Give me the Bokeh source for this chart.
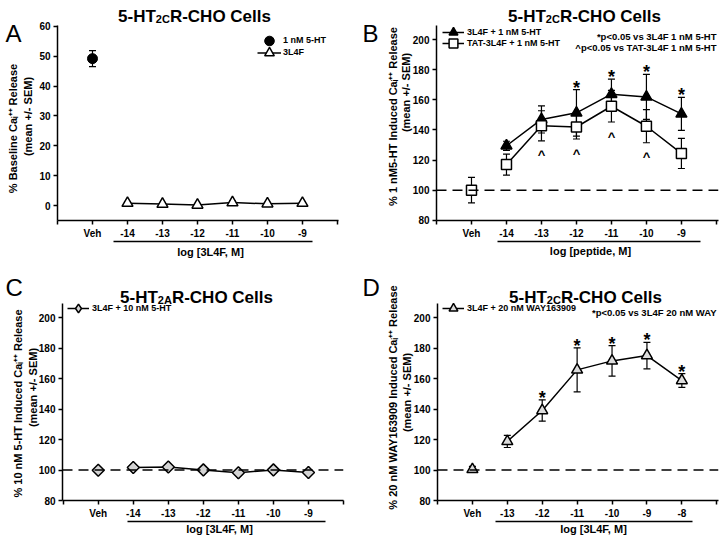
import math
from bokeh.plotting import figure
from bokeh.layouts import column, row
from bokeh.models import (Label, Span, Whisker, TeeHead, ColumnDataSource,
                          Legend, LegendItem, FixedTicker, Range1d, LinearAxis)
from bokeh.core.properties import value
from bokeh.embed import file_html
from bokeh.resources import INLINE

FONT = "Liberation Sans"

# ---------------- data ----------------
x_cats_a = ["Veh", "-14", "-13", "-12", "-11", "-10", "-9"]
x_cats_b = ["Veh", "-14", "-13", "-12", "-11", "-10", "-9"]
x_cats_c = ["Veh", "-14", "-13", "-12", "-11", "-10", "-9"]
x_cats_d = ["Veh", "-13", "-12", "-11", "-10", "-9", "-8"]

a_yticks = [0, 10, 20, 30, 40, 50, 60]
bcd_yticks = [80, 100, 120, 140, 160, 180, 200]

# A: % baseline Ca release
a_5ht_mean = [49.2]
a_5ht_sem = [2.7]
a_3l4f_mean = [0.8, 0.5, 0.2, 1.0, 0.6, 0.8]
a_3l4f_sem = [0.5, 0.4, 0.4, 0.5, 0.4, 0.4]

# B: % 1 nM 5-HT induced release
b_veh_mean = [100.0]
b_veh_sem = [8.5]
b_3l4f_mean = [129.5, 147.0, 151.4, 163.8, 162.0, 150.7]
b_3l4f_sem = [3.0, 9.0, 15.5, 10.0, 15.0, 11.0]
b_tat_mean = [117.0, 142.8, 142.0, 155.8, 142.5, 124.4]
b_tat_sem = [7.0, 10.0, 8.0, 10.5, 11.0, 10.0]
b_3l4f_sig = [False, False, True, True, True, True]
b_tat_sig = [False, True, True, True, True, False]

# C: 5-HT2A, % 10 nM 5-HT induced release
c_veh_mean = [99.9]
c_veh_sem = [1.0]
c_3l4f_mean = [101.7, 102.0, 100.1, 98.2, 100.1, 98.4]
c_3l4f_sem = [1.2, 1.0, 1.0, 1.2, 1.0, 1.0]

# D: % 20 nM WAY163909 induced release
d_veh_mean = [100.4]
d_veh_sem = [2.0]
d_3l4f_mean = [118.8, 139.1, 165.8, 171.7, 175.2, 158.8]
d_3l4f_sem = [4.0, 7.0, 14.5, 10.0, 8.7, 4.5]
d_3l4f_sig = [False, True, True, True, True, True]

# ---------------- helpers ----------------
W = 360
H1 = 269
H2 = 270


def make_src(xs, means, sems):
    return ColumnDataSource(dict(
        x=xs, y=means,
        upper=[m + s for m, s in zip(means, sems)],
        lower=[m - s for m, s in zip(means, sems)]))


def style_axis(ax):
    ax.axis_line_width = 1.5
    ax.axis_line_color = "black"
    ax.major_tick_line_width = 1.5
    ax.major_tick_line_color = "black"
    ax.major_tick_in = 0
    ax.major_tick_out = 4
    ax.minor_tick_line_color = None
    ax.major_label_text_font = FONT
    ax.major_label_text_font_style = "bold"
    ax.major_label_text_font_size = "10px"
    ax.major_label_text_color = "black"
    ax.major_label_standoff = 3


def make_fig(cx, cy, h, frame, xr, yr, yticks, xcats, ul):
    fl, fr, ft, fb = frame
    p = figure(width=W, height=h, x_range=Range1d(*xr), y_range=Range1d(*yr),
               title=None, output_backend="svg", toolbar_location=None,
               min_border_left=fl - cx, min_border_right=cx + W - fr,
               min_border_top=ft - cy, min_border_bottom=cy + h - fb)
    p.outline_line_color = None
    p.grid.visible = False
    p.background_fill_color = "white"
    p.border_fill_color = "white"
    p.xaxis.ticker = FixedTicker(ticks=list(range(-1, 8)))
    ov = {-1: "", 7: ""}
    for i, c in enumerate(xcats):
        ov[i] = c
    p.xaxis.major_label_overrides = ov
    p.yaxis.ticker = FixedTicker(ticks=yticks)
    style_axis(p.xaxis[0])
    style_axis(p.yaxis[0])
    # underline below the dose tick labels: a bare axis line with bounds
    ax2 = LinearAxis(bounds=ul, ticker=FixedTicker(ticks=[]))
    style_axis(ax2)
    ax2.major_tick_out = 0
    ax2.major_label_standoff = 0
    p.add_layout(ax2, "below")
    return p


def add_err(p, src):
    p.add_layout(Whisker(source=src, base="x", upper="upper", lower="lower",
                         dimension="height", line_color="black", line_width=1.2,
                         upper_head=TeeHead(size=7, line_width=1.2, line_color="black"),
                         lower_head=TeeHead(size=7, line_width=1.2, line_color="black"),
                         level="underlay"))


def legend1(p, frame, label, rends, left_page, center_page, gw=22, gh=24, standoff=3):
    fl, fr, ft, fb = frame
    lg = Legend(items=[LegendItem(label=label, renderers=rends)],
                location=(left_page - fl, fb - center_page - gh / 2),
                border_line_color=None, background_fill_alpha=0.0,
                label_text_font=FONT, label_text_font_style="bold",
                label_text_font_size="9px", label_text_color="black",
                glyph_width=gw, glyph_height=gh, label_height=12,
                spacing=0, padding=0, margin=0, label_standoff=standoff)
    p.add_layout(lg)


def note(p, frame, px, py, text):
    fl, fr, ft, fb = frame
    p.add_layout(Label(x=px - fl, y=fb - py, x_units="screen", y_units="screen",
                       text=text, text_font=FONT, text_font_size="9.5px",
                       text_font_style="bold", text_align="right",
                       text_baseline="alphabetic", text_color="black"))


def dash100(p):
    p.add_layout(Span(location=100, dimension="width", line_color="black",
                      line_width=1.5, line_dash="10 6"))


def stars(p, xs, uppers, flags, yoff):
    sx = [x for x, f in zip(xs, flags) if f]
    sy = [u for u, f in zip(uppers, flags) if f]
    p.text(x=sx, y=sy, text=["*"] * len(sx), text_font=value(FONT),
           text_font_size="18px", text_font_style="bold", text_align="center",
           text_baseline="alphabetic", y_offset=yoff, text_color="black")


def carets(p, xs, lowers, flags, yoff):
    sx = [x for x, f in zip(xs, flags) if f]
    sy = [u for u, f in zip(lowers, flags) if f]
    p.text(x=sx, y=sy, text=["^"] * len(sx), text_font=value(FONT),
           text_font_size="13px", text_font_style="bold", text_align="center",
           text_baseline="alphabetic", y_offset=yoff, text_color="black")


SUPI = "Ca\u1d62\u207a\u207a"

# ---------------- Panel A ----------------
fa = (57, 338, 24, 220)
pa = make_fig(0, 0, H1, fa, (-1.0, 7.03), (-5, 60.3), a_yticks, x_cats_a, (0.6, 6.3))
xs_a = list(range(1, len(x_cats_a)))
sa_veh = make_src([0], a_5ht_mean, a_5ht_sem)
sa = make_src(xs_a, a_3l4f_mean, a_3l4f_sem)
add_err(pa, sa_veh)
add_err(pa, sa)
la0 = pa.line(x=[], y=[], line_color="black", line_width=1.5)
ra0 = pa.scatter("x", "y", source=sa_veh, marker="circle", size=10,
                 fill_color="black", line_color="black")
la1 = pa.line("x", "y", source=sa, line_color="black", line_width=1.5)
ra1 = pa.scatter("x", "y", source=sa, marker="triangle", size=11,
                 fill_color="white", line_color="black", line_width=1.5)
legend1(pa, fa, "1 nM 5-HT", [la0, ra0], 257, 40, gw=24, gh=25, standoff=2)
legend1(pa, fa, "3L4F", [la1, ra1], 257, 52, gw=24, gh=25, standoff=2)

# ---------------- Panel B ----------------
fbb = (436, 718, 25, 220)
pb = make_fig(360, 0, H1, fbb, (-1.0, 7.06), (79.8, 209.5), bcd_yticks, x_cats_b, (0.73, 6.55))
dash100(pb)
xs_b = list(range(1, len(x_cats_b)))
sb_veh = make_src([0], b_veh_mean, b_veh_sem)
sb1 = make_src(xs_b, b_3l4f_mean, b_3l4f_sem)
sb2 = make_src(xs_b, b_tat_mean, b_tat_sem)
add_err(pb, sb_veh)
add_err(pb, sb1)
add_err(pb, sb2)
lb1 = pb.line("x", "y", source=sb1, line_color="black", line_width=1.5)
rb1 = pb.scatter("x", "y", source=sb1, marker="triangle", size=11,
                 fill_color="black", line_color="black", line_width=1.5)
lb2 = pb.line("x", "y", source=sb2, line_color="black", line_width=1.5)
rb2 = pb.scatter("x", "y", source=sb2, marker="square", size=10,
                 fill_color="white", line_color="black", line_width=1.5)
pb.scatter("x", "y", source=sb_veh, marker="square", size=10,
           fill_color="white", line_color="black", line_width=1.5)
stars(pb, xs_b, sb1.data["upper"], b_3l4f_sig, -2)
carets(pb, xs_b, sb2.data["lower"], b_tat_sig, 14)
legend1(pb, fbb, "3L4F + 1 nM 5-HT", [lb1, rb1], 442, 31.5)
legend1(pb, fbb, "TAT-3L4F + 1 nM 5-HT", [lb2, rb2], 442, 42.5)
note(pb, fbb, 716, 36, "*p<0.05 vs 3L4F 1 nM 5-HT")
note(pb, fbb, 716, 47, "^p<0.05 vs TAT-3L4F 1 nM 5-HT")

# ---------------- Panel C ----------------
fc = (62, 343, 303, 500)
pc = make_fig(0, 269, H2, fc, (-1.02, 7.0), (80, 209.4), bcd_yticks, x_cats_c, (0.83, 6.49))
dash100(pc)
xs_c = list(range(1, len(x_cats_c)))
sc_veh = make_src([0], c_veh_mean, c_veh_sem)
sc = make_src(xs_c, c_3l4f_mean, c_3l4f_sem)
add_err(pc, sc_veh)
add_err(pc, sc)
lc = pc.line("x", "y", source=sc, line_color="black", line_width=1.5)
# diamond glyph (used for the legend key); the rotated squares drawn on top cover it
rc_leg = pc.scatter("x", "y", source=sc, marker="diamond", size=11,
                    fill_color="#d4d4d4", line_color="black", line_width=1.5)
pc.scatter("x", "y", source=sc, marker="square", angle=math.pi / 4, size=8.5,
           fill_color="#d4d4d4", line_color="black", line_width=1.5)
pc.scatter("x", "y", source=sc_veh, marker="square", angle=math.pi / 4, size=8.5,
           fill_color="#d4d4d4", line_color="black", line_width=1.5)
legend1(pc, fc, "3L4F + 10 nM 5-HT", [lc, rc_leg], 67, 308, gw=22, gh=26)

# ---------------- Panel D ----------------
fd = (437, 718, 303, 500)
pd = make_fig(360, 269, H2, fd, (-1.0, 7.05), (80, 209.4), bcd_yticks, x_cats_d, (0.65, 6.3))
dash100(pd)
xs_d = list(range(1, len(x_cats_d)))
sd_veh = make_src([0], d_veh_mean, d_veh_sem)
sd = make_src(xs_d, d_3l4f_mean, d_3l4f_sem)
add_err(pd, sd_veh)
add_err(pd, sd)
ld = pd.line("x", "y", source=sd, line_color="black", line_width=1.5)
rd = pd.scatter("x", "y", source=sd, marker="triangle", size=11,
                fill_color="#dcdcdc", line_color="black", line_width=1.5)
pd.scatter("x", "y", source=sd_veh, marker="triangle", size=11,
           fill_color="#dcdcdc", line_color="black", line_width=1.5)
stars(pd, xs_d, sd.data["upper"], d_3l4f_sig, -2)
legend1(pd, fd, "3L4F + 20 nM WAY163909", [ld, rd], 442, 308)
note(pd, fd, 716, 312, "*p<0.05 vs 3L4F 20 nM WAY")

# ---------------- overlay for titles / panel letters / axis titles ----------------
ovl = figure(width=720, height=539, x_range=Range1d(0, 720), y_range=Range1d(539, 0),
             x_axis_type=None, y_axis_type=None, toolbar_location=None,
             output_backend="svg", title=None, min_border=0,
             min_border_left=0, min_border_right=0, min_border_top=0, min_border_bottom=0,
             margin=(-539, 0, 0, 0))
ovl.outline_line_color = None
ovl.background_fill_color = None
ovl.border_fill_color = None


def olab(px, py, text, size, style="bold", align="left", baseline="alphabetic", angle=0.0):
    ovl.add_layout(Label(x=px, y=py, text=text, text_font=FONT,
                         text_font_size=f"{size}px", text_font_style=style,
                         text_align=align, text_baseline=baseline, angle=angle,
                         text_color="black"))


def otitle(center, base, sub):
    ms, ss = 17, 11
    w1 = 2.222 * ms
    w2 = 1.278 * ss
    w3 = 5.945 * ms
    start = center - (w1 + w2 + w3) / 2
    olab(start, base, "5-HT", ms)
    olab(start + w1, base + 2.5, sub, ss)
    olab(start + w1 + w2, base, "R-CHO Cells", ms)


def oylab(l1, c1, l2, c2):
    olab(c1[0], c1[1], l1, 11, align="center", baseline="middle", angle=math.pi / 2)
    olab(c2[0], c2[1], l2, 11, align="center", baseline="middle", angle=math.pi / 2)


# panel letters
olab(5, 33, "A", 24, style="normal")
olab(362, 33, "B", 24, style="normal")
olab(5, 287, "C", 24, style="normal")
olab(362, 287, "D", 24, style="normal")
# titles
otitle(194, 16, "2C")
otitle(584, 16, "2C")
otitle(196, 296.5, "2A")
otitle(585, 296.5, "2C")
# y axis titles
oylab(f"% Baseline {SUPI} Release", (12, 128), "(mean +/- SEM)", (27, 116))
oylab(f"% 1 nM5-HT Induced {SUPI} Release", (392, 116), "(mean +/- SEM)", (405, 92))
oylab(f"% 10 nM 5-HT Induced {SUPI} Release", (17, 403), "(mean +/- SEM)", (32, 387))
oylab(f"% 20 nM WAY163909 Induced {SUPI} Release", (392, 397), "(mean +/- SEM)", (406, 392))
# x axis titles
olab(210, 251, "log [3L4F, M]", 11, align="center", baseline="middle")
olab(590, 250, "log [peptide, M]", 11, align="center", baseline="middle")
olab(219, 528, "log [3L4F, M]", 11, align="center", baseline="middle")
olab(593, 528, "log [3L4F, M]", 11, align="center", baseline="middle")

layout = column(row(pa, pb), row(pc, pd), ovl)
open("out.html", "w").write(file_html(layout, INLINE))
